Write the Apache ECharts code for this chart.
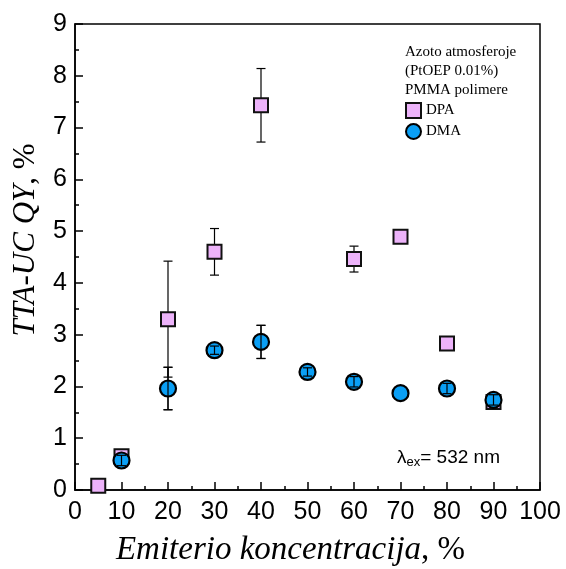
<!DOCTYPE html>
<html>
<head>
<meta charset="utf-8">
<script src="https://cdn.jsdelivr.net/npm/echarts@6/dist/echarts.min.js"></script>
<style>
  html, body { margin: 0; padding: 0; background: #fff; }
  #chart { width: 566px; height: 569px; }
</style>
</head>
<body>
<div id="chart"></div>
<script>
// Emitter concentration (%) and TTA-UC quantum yields (%)
const dpaConc = [5, 10, 20, 30, 40, 60, 70, 80, 90];
const dpaQY   = [0.08, 0.65, 3.30, 4.60, 7.43, 4.46, 4.89, 2.83, 1.70];
const dpaErr  = [0.07, 0.05, 1.12, 0.45, 0.71, 0.25, 0.00, 0.00, 0.00];

const dmaConc = [10, 20, 30, 40, 50, 60, 70, 80, 90];
const dmaQY   = [0.57, 1.96, 2.70, 2.86, 2.28, 2.09, 1.87, 1.96, 1.74];
const dmaErr  = [0.10, 0.41, 0.08, 0.32, 0.08, 0.10, 0.00, 0.10, 0.10];

const xTicks = [0, 10, 20, 30, 40, 50, 60, 70, 80, 90, 100];
const yTicks = [0, 1, 2, 3, 4, 5, 6, 7, 8, 9];

const pink = '#EDB3FA';
const blue = '#0A9FF5';

function pts(xs, ys) { return xs.map((x, i) => [x, ys[i]]); }
function errRows(xs, ys, es) {
  return xs.map((x, i) => [x, ys[i] - es[i], ys[i] + es[i]]).filter((r, i) => es[i] > 0);
}

// vertical error bar with caps
function renderErr(params, api) {
  const x = api.value(0);
  const lo = api.coord([x, api.value(1)]);
  const hi = api.coord([x, api.value(2)]);
  const w = 4.5;
  const style = { stroke: '#000', lineWidth: 1.2 };
  return {
    type: 'group',
    children: [
      { type: 'line', shape: { x1: lo[0], y1: lo[1], x2: hi[0], y2: hi[1] }, style },
      { type: 'line', shape: { x1: lo[0] - w, y1: lo[1], x2: lo[0] + w, y2: lo[1] }, style },
      { type: 'line', shape: { x1: hi[0] - w, y1: hi[1], x2: hi[0] + w, y2: hi[1] }, style }
    ]
  };
}

const chart = echarts.init(document.getElementById('chart'), null, { renderer: 'canvas' });

const tickFont = { fontFamily: 'Liberation Sans, Arial, sans-serif', fontSize: 25, color: '#000' };
function titleRich(size) {
  return {
    i: { fontFamily: 'Liberation Serif, Times New Roman, serif', fontStyle: 'italic', fontSize: size, color: '#000' },
    n: { fontFamily: 'Liberation Serif, Times New Roman, serif', fontSize: size, color: '#000' }
  };
}

chart.setOption({
  animation: false,
  backgroundColor: '#fff',
  grid: {
    left: 75, right: 26, top: 24, bottom: 79,
    containLabel: false, outerBoundsMode: 'none',
    show: true, borderColor: '#000', borderWidth: 1.5, backgroundColor: 'transparent'
  },
  xAxis: {
    type: 'value',
    min: xTicks[0], max: xTicks[xTicks.length - 1], interval: 10,
    name: '{i|Emiterio koncentracija}{n|, %}',
    nameLocation: 'middle', nameGap: 44,
    nameTextStyle: { rich: titleRich(33), padding: [0, 34, 0, 0] },
    axisLine: { lineStyle: { color: '#000', width: 1.5 } },
    axisTick: { inside: true, length: 8, lineStyle: { color: '#000', width: 1.5 } },
    minorTick: { show: true, splitNumber: 2, length: 4, lineStyle: { color: '#000', width: 1.5 } },
    axisLabel: Object.assign({ margin: 10 }, tickFont),
    splitLine: { show: false }
  },
  yAxis: {
    type: 'value',
    min: yTicks[0], max: yTicks[yTicks.length - 1], interval: 1,
    name: '{i|TTA-UC QY}{n|, %}',
    nameLocation: 'middle', nameGap: 34,
    nameTextStyle: { rich: titleRich(31), padding: [0, 0, 0, 34] },
    axisLine: { lineStyle: { color: '#000', width: 1.5 } },
    axisTick: { inside: true, length: 8, lineStyle: { color: '#000', width: 1.5 } },
    minorTick: { show: true, splitNumber: 2, length: 4, lineStyle: { color: '#000', width: 1.5 } },
    axisLabel: Object.assign({ margin: 8 }, tickFont),
    splitLine: { show: false }
  },
  legend: {
    orient: 'vertical',
    left: 405, top: 102,
    padding: 0,
    itemWidth: 15, itemHeight: 15, itemGap: 4,
    textStyle: { fontFamily: 'Liberation Serif, Times New Roman, serif', fontSize: 15, color: '#000' },
    data: ['DPA', 'DMA']
  },
  graphic: [
    {
      type: 'text', left: 405, top: 43,
      style: {
        text: 'Azoto atmosferoje\n(PtOEP 0.01%)\nPMMA polimere',
        font: '15px "Liberation Serif", "Times New Roman", serif',
        lineHeight: 19, fill: '#000'
      }
    },
    {
      type: 'text', left: 397, top: 448,
      style: {
        text: '{a|λ}{s|ex}{a|= 532 nm}',
        rich: {
          a: { fontFamily: 'Liberation Sans, Arial, sans-serif', fontSize: 19, color: '#000' },
          s: { fontFamily: 'Liberation Sans, Arial, sans-serif', fontSize: 13, color: '#000', padding: [10, 0, 0, 0] }
        }
      }
    }
  ],
  series: [
    {
      name: 'DPA-err', type: 'custom', renderItem: renderErr,
      data: errRows(dpaConc, dpaQY, dpaErr), encode: { x: 0, y: [1, 2] }, z: 2
    },
    {
      name: 'DPA', type: 'scatter', data: pts(dpaConc, dpaQY),
      symbol: 'rect', symbolSize: 14,
      itemStyle: { color: pink, borderColor: '#111', borderWidth: 2, opacity: 1 }, z: 3
    },
    {
      name: 'DMA-err', type: 'custom', renderItem: renderErr,
      data: errRows(dmaConc, dmaQY, dmaErr), encode: { x: 0, y: [1, 2] }, z: 4
    },
    {
      name: 'DMA', type: 'scatter', data: pts(dmaConc, dmaQY),
      symbol: 'circle', symbolSize: 16,
      itemStyle: { color: blue, borderColor: '#000', borderWidth: 2.2, opacity: 1 }, z: 5
    },
    {
      name: 'DMA-err-top', type: 'custom', renderItem: renderErr,
      data: errRows(dmaConc, dmaQY, dmaErr), encode: { x: 0, y: [1, 2] }, z: 6
    }
  ]
});
</script>
</body>
</html>
